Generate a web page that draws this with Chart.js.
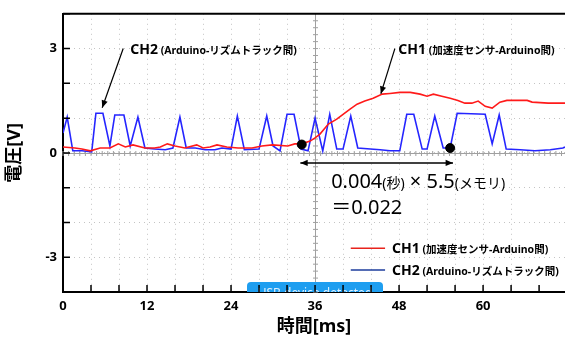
<!DOCTYPE html>
<html>
<head>
<meta charset="utf-8">
<script src="https://cdn.jsdelivr.net/npm/chart.js@4.4.1/dist/chart.umd.min.js"></script>
<style>
  html, body { margin: 0; padding: 0; background: #fff; }
  #wrap { width: 565px; height: 338px; }
</style>
</head>
<body>
<div id="wrap"><canvas id="myChart"></canvas></div>
<script>
// CH1 (加速度センサ-Arduino間), time in ms / voltage in V
const ch1Time = [0, 1.7, 2.7, 3.9, 5.3, 6.7, 7.9, 8.9, 10, 11.7, 13.1, 13.9, 14.9, 16, 17.4, 19.1, 20, 21, 22, 23.4,
  25, 27, 28.4, 29.9, 32.1, 33.1, 34.1, 35.3, 36, 36.7, 37.9, 39.1, 40, 41, 42, 43.1, 44.3, 45.6, 46.7, 48.1,
  49.6, 51, 52, 52.9, 54.1, 55.3, 56.4, 57.4, 58.4, 59.3, 60.3, 61.3, 62.4, 63.4, 66.3, 67, 69.3, 71.7];
const ch1Volt = [0.17, 0.14, 0.11, 0.06, 0.14, 0.14, 0.26, 0.17, 0.23, 0.14, 0.14, 0.17, 0.26, 0.2, 0.14, 0.23, 0.14, 0.17, 0.23, 0.17,
  0.14, 0.14, 0.2, 0.23, 0.2, 0.26, 0.26, 0.34, 0.43, 0.54, 0.83, 0.97, 1.11, 1.26, 1.4, 1.49, 1.57, 1.69, 1.71, 1.74,
  1.74, 1.69, 1.63, 1.69, 1.63, 1.57, 1.51, 1.43, 1.43, 1.49, 1.34, 1.29, 1.46, 1.51, 1.51, 1.46, 1.43, 1.43];

// CH2 (Arduino-リズムトラック間)
const ch2Time = [0, 0.6, 1.4, 2.7, 4.1, 4.7, 5.7, 6.7, 7.4, 8.7, 9.6, 10.7, 11.7, 13.1, 14.6, 15.7, 16.7, 17.6, 18.9, 20.3,
  21.7, 22.7, 24, 24.9, 25.9, 28, 29.1, 30, 31, 32, 33, 34, 35, 36, 37.1, 38.1, 39.1, 40, 41.1, 42.1,
  43.9, 45.3, 46.7, 48.1, 49.1, 50.1, 51.3, 52, 53.1, 54.3, 55.3, 56.3, 60.3, 61.3, 62.3, 63.3, 65.3, 67.4, 69.6, 71.4, 71.7];
const ch2Volt = [0.57, 1.03, 0.06, 0.06, 0.03, 1.14, 1.14, 0.2, 1.09, 1.09, 0.2, 1.03, 0.14, 0.11, 0.09, 0.14, 1.03, 0.14, 0.14, 0.09,
  0.09, 0.14, 0.11, 1.06, 0.09, 0.11, 1.06, 0.2, 0.06, 1.11, 1.11, 0.11, 0.06, 1.0, 0.06, 1.11, 0.11, 0.11, 1.06, 0.14,
  0.11, 0.09, 0.06, 0.06, 1.11, 1.11, 0.11, 0.11, 1.06, 0.14, 0.14, 1.14, 1.11, 0.26, 1.09, 0.11, 0.09, 0.06, 0.09, 0.14, 0.17];

// measuring points
const markerTime = [34.1, 55.3];
const markerVolt = [0.24, 0.14];

const xTickLabels = [0, 12, 24, 36, 48, 60];
const yTickLabels = [3, 0, -3];

const FONT = '"Noto Sans", "Noto Sans CJK JP", sans-serif';

function pts(xs, ys) {
  return xs.map((x, i) => ({ x: x, y: ys[i] }));
}

function runs(ctx, x, y, parts) {
  parts.forEach(p => {
    ctx.font = p[1];
    ctx.fillText(p[0], x, y);
    x += ctx.measureText(p[0]).width;
  });
}

function arrowHead(ctx, x1, y1, x2, y2, size) {
  const a = Math.atan2(y2 - y1, x2 - x1);
  ctx.beginPath();
  ctx.moveTo(x2, y2);
  ctx.lineTo(x2 - size * Math.cos(a - 0.4), y2 - size * Math.sin(a - 0.4));
  ctx.lineTo(x2 - size * Math.cos(a + 0.4), y2 - size * Math.sin(a + 0.4));
  ctx.closePath();
  ctx.fill();
}

const scopeDecor = {
  id: 'scopeDecor',
  beforeDatasetsDraw(chart) {
    const { ctx, chartArea: a, scales: { x, y } } = chart;
    ctx.save();
    // centre crosshair
    ctx.strokeStyle = '#a0a0a0';
    ctx.lineWidth = 1;
    const cx = Math.round(x.getPixelForValue(36)) + 0.5;
    const cy = Math.round(y.getPixelForValue(0)) + 0.5;
    ctx.beginPath();
    ctx.moveTo(cx, a.top); ctx.lineTo(cx, a.bottom);
    ctx.moveTo(a.left, cy); ctx.lineTo(a.right, cy);
    for (let v = -4; v <= 4; v += 0.2) {
      const py = y.getPixelForValue(v);
      ctx.moveTo(cx - 2.5, py); ctx.lineTo(cx + 2.5, py);
    }
    for (let t = 0; t <= 72; t += 0.8) {
      const px = x.getPixelForValue(t);
      ctx.moveTo(px, cy - 2.5); ctx.lineTo(px, cy + 2.5);
    }
    ctx.stroke();

    // "USB device detected" badge
    ctx.beginPath();
    ctx.rect(0, 0, chart.width, a.bottom);
    ctx.clip();
    ctx.fillStyle = '#1e9ef0';
    ctx.beginPath();
    ctx.roundRect(247, a.bottom - 10, 136, 20, 4);
    ctx.fill();
    ctx.fillStyle = '#dff1ff';
    ctx.font = '12px ' + FONT;
    ctx.textAlign = 'center';
    ctx.textBaseline = 'alphabetic';
    ctx.fillText('USB device detected', 315, a.bottom + 5);
    ctx.restore();
  },
  afterDatasetsDraw(chart) {
    const { ctx, chartArea: a, scales: { x, y } } = chart;
    ctx.save();
    ctx.strokeStyle = '#000';
    ctx.fillStyle = '#000';
    // top frame
    ctx.lineWidth = 2;
    ctx.beginPath();
    ctx.moveTo(a.left, a.top); ctx.lineTo(a.right, a.top);
    ctx.stroke();
    // inner ticks
    ctx.lineWidth = 1.5;
    ctx.beginPath();
    for (let v = -4; v <= 4; v += 1) {
      const py = y.getPixelForValue(v);
      ctx.moveTo(a.left, py); ctx.lineTo(a.left + 7, py);
    }
    for (let t = 4; t <= 71; t += 4) {
      const px = x.getPixelForValue(t);
      ctx.moveTo(px, a.bottom); ctx.lineTo(px, a.bottom - 7);
    }
    ctx.stroke();

    // label arrows
    ctx.lineWidth = 1.2;
    const arrows = [[8.6, 3.0, 5.6, 1.3], [47.4, 3.0, 45.4, 1.7]];
    arrows.forEach(r => {
      const x1 = x.getPixelForValue(r[0]), y1 = y.getPixelForValue(r[1]);
      const x2 = x.getPixelForValue(r[2]), y2 = y.getPixelForValue(r[3]);
      ctx.beginPath(); ctx.moveTo(x1, y1); ctx.lineTo(x2, y2); ctx.stroke();
      arrowHead(ctx, x1, y1, x2, y2, 8);
    });

    // double arrow of the delay
    const ay = y.getPixelForValue(-0.29);
    const ax1 = x.getPixelForValue(33.9), ax2 = x.getPixelForValue(55.7);
    ctx.lineWidth = 1.5;
    ctx.beginPath(); ctx.moveTo(ax1, ay); ctx.lineTo(ax2, ay); ctx.stroke();
    arrowHead(ctx, ax2, ay, ax1, ay, 8);
    arrowHead(ctx, ax1, ay, ax2, ay, 8);

    // texts
    ctx.textBaseline = 'alphabetic';
    ctx.textAlign = 'left';
    runs(ctx, x.getPixelForValue(9.6), y.getPixelForValue(2.85), [
      ['CH2', 'bold 14px ' + FONT], [' (Arduino-リズムトラック間)', 'bold 10.5px ' + FONT]]);
    runs(ctx, x.getPixelForValue(47.9), y.getPixelForValue(2.85), [
      ['CH1', 'bold 14px ' + FONT], [' (加速度センサ-Arduino間)', 'bold 10.5px ' + FONT]]);
    runs(ctx, x.getPixelForValue(38.3), y.getPixelForValue(-1.0), [
      ['0.004', '20px ' + FONT], ['(秒)', '14px ' + FONT], [' × 5.5', '20px ' + FONT], ['(メモリ)', '14px ' + FONT]]);
    runs(ctx, x.getPixelForValue(38.3), y.getPixelForValue(-1.77), [['＝0.022', '20px ' + FONT]]);

    // legend
    const legend = [['#e8231c', -2.74, 'CH1', ' (加速度センサ-Arduino間)'],
                    ['#1c3c9c', -3.37, 'CH2', ' (Arduino-リズムトラック間)']];
    legend.forEach(l => {
      const ly = y.getPixelForValue(l[1]);
      ctx.strokeStyle = l[0];
      ctx.lineWidth = 1.5;
      ctx.beginPath();
      ctx.moveTo(x.getPixelForValue(41.1), ly); ctx.lineTo(x.getPixelForValue(46), ly);
      ctx.stroke();
      ctx.fillStyle = '#000';
      runs(ctx, x.getPixelForValue(47), ly + 5, [[l[2], 'bold 14px ' + FONT], [l[3], 'bold 10.5px ' + FONT]]);
    });
    ctx.restore();
  }
};

const config = {
  type: 'line',
  data: {
    datasets: [{
      label: 'marker',
      data: pts(markerTime, markerVolt),
      showLine: false,
      pointRadius: 4.5,
      pointBackgroundColor: '#000',
      pointBorderColor: '#000',
      order: 0
    }, {
      label: 'CH1',
      data: pts(ch1Time, ch1Volt),
      borderColor: '#ff1a1a',
      borderWidth: 1.6,
      pointRadius: 0,
      tension: 0,
      order: 1
    }, {
      label: 'CH2',
      data: pts(ch2Time, ch2Volt),
      borderColor: '#2525ff',
      borderWidth: 1.6,
      pointRadius: 0,
      tension: 0,
      order: 2
    }]
  },
  options: {
    responsive: true,
    maintainAspectRatio: false,
    animation: false,
    events: [],
    layout: { autoPadding: false, padding: { top: 12, right: 0, left: 0, bottom: 0 } },
    plugins: { legend: { display: false }, tooltip: { enabled: false } },
    scales: {
      x: {
        type: 'linear',
        min: 0,
        max: 71.7,
        afterFit: s => { s.height = 46; },
        afterBuildTicks: s => { s.ticks = s.ticks.filter(t => t.value % 4 === 0); },
        ticks: {
          stepSize: 4,
          autoSkip: false,
          maxRotation: 0,
          padding: 6,
          color: '#000',
          font: { family: FONT, size: 13, weight: 'bold' },
          callback: v => xTickLabels.includes(v) ? String(v) : ''
        },
        grid: { color: '#c4c4c4', lineWidth: 1, drawTicks: false },
        border: { display: true, color: '#000', width: 2, dash: [1, 4] },
        title: {
          display: true,
          text: '時間[ms]',
          color: '#000',
          padding: { top: 0, bottom: 0 },
          font: { family: FONT, size: 18, weight: 'bold' }
        }
      },
      y: {
        min: -4,
        max: 4,
        afterFit: s => { s.width = 63; },
        ticks: {
          stepSize: 1,
          autoSkip: false,
          padding: 6,
          color: '#000',
          font: { family: FONT, size: 13, weight: 'bold' },
          callback: v => yTickLabels.includes(v) ? String(v) : ''
        },
        grid: { color: '#c4c4c4', lineWidth: 1, drawTicks: false },
        border: { display: true, color: '#000', width: 2, dash: [1, 4] },
        title: {
          display: true,
          text: '電圧[V]',
          color: '#000',
          padding: { top: 4, bottom: 0 },
          font: { family: FONT, size: 18, weight: 'bold' }
        }
      }
    }
  },
  plugins: [scopeDecor]
};

const myChart = new Chart(document.getElementById('myChart'), config);
</script>
</body>
</html>
